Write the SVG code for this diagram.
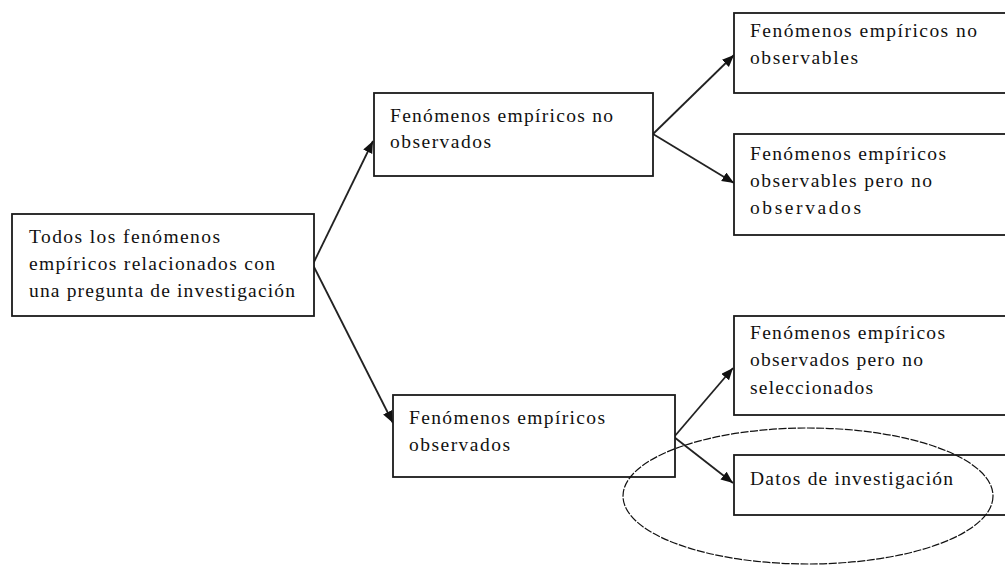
<svg xmlns="http://www.w3.org/2000/svg" width="1005" height="566" viewBox="0 0 1005 566">
  <style>
    .box { fill: #ffffff; stroke: #1a1a1a; stroke-width: 1.8; }
    .lbl { font-family: "Liberation Serif", "Times New Roman", serif; font-size: 19.5px; fill: #111111; }
    .conn { stroke: #222222; stroke-width: 1.8; fill: none; marker-end: url(#arrow); }
    .oval { fill: none; stroke: #111111; stroke-width: 1.2; stroke-dasharray: 8 1.5; }
  </style>
  <defs>
    <marker id="arrow" markerUnits="userSpaceOnUse" markerWidth="14" markerHeight="12" refX="12" refY="5" orient="auto">
      <path d="M0,0 L12,5 L0,10 Z" fill="#111111"/>
    </marker>
  </defs>
  <rect width="1005" height="566" fill="#ffffff"/>

  <g id="connectors">
    <line class="conn" x1="313" y1="264" x2="373" y2="141"/>
    <line class="conn" x1="313" y1="265" x2="393" y2="423"/>
    <line class="conn" x1="653" y1="134" x2="734" y2="55"/>
    <line class="conn" x1="653" y1="134" x2="734" y2="183"/>
    <line class="conn" x1="674" y1="437" x2="733" y2="368"/>
    <line class="conn" x1="674" y1="437" x2="733" y2="483"/>
  </g>

  <g id="root">
    <rect class="box" x="12" y="214" width="302" height="102"/>
    <text class="lbl" x="29" y="243" textLength="191" lengthAdjust="spacing">Todos los fenómenos</text>
    <text class="lbl" x="29" y="270" textLength="246" lengthAdjust="spacing">empíricos relacionados con</text>
    <text class="lbl" x="29" y="297" textLength="266" lengthAdjust="spacing">una pregunta de investigación</text>
  </g>

  <g id="no-observados">
    <rect class="box" x="374" y="93" width="279" height="83"/>
    <text class="lbl" x="390" y="122" textLength="223" lengthAdjust="spacing">Fenómenos empíricos no</text>
    <text class="lbl" x="390" y="148" textLength="101" lengthAdjust="spacing">observados</text>
  </g>

  <g id="observados">
    <rect class="box" x="393" y="395" width="282" height="82"/>
    <text class="lbl" x="409" y="424" textLength="196" lengthAdjust="spacing">Fenómenos empíricos</text>
    <text class="lbl" x="409" y="451" textLength="101" lengthAdjust="spacing">observados</text>
  </g>

  <g id="no-observables">
    <rect class="box" x="734" y="13" width="290" height="80"/>
    <text class="lbl" x="750" y="37" textLength="227" lengthAdjust="spacing">Fenómenos empíricos no</text>
    <text class="lbl" x="750" y="64" textLength="108" lengthAdjust="spacing">observables</text>
  </g>

  <g id="observables-no-observados">
    <rect class="box" x="734" y="134" width="290" height="101"/>
    <text class="lbl" x="750" y="160" textLength="196" lengthAdjust="spacing">Fenómenos empíricos</text>
    <text class="lbl" x="750" y="187" textLength="182" lengthAdjust="spacing">observables pero no</text>
    <text class="lbl" x="750" y="214" textLength="111" lengthAdjust="spacing">observados</text>
  </g>

  <g id="observados-no-seleccionados">
    <rect class="box" x="734" y="316" width="290" height="99"/>
    <text class="lbl" x="750" y="339" textLength="195" lengthAdjust="spacing">Fenómenos empíricos</text>
    <text class="lbl" x="750" y="366" textLength="173" lengthAdjust="spacing">observados pero no</text>
    <text class="lbl" x="750" y="394" textLength="123" lengthAdjust="spacing">seleccionados</text>
  </g>

  <g id="datos">
    <rect class="box" x="734" y="455" width="290" height="60"/>
    <text class="lbl" x="750" y="485" textLength="203" lengthAdjust="spacing">Datos de investigación</text>
  </g>

  <g id="highlight">
    <ellipse class="oval" cx="808" cy="496" rx="185" ry="68"/>
  </g>
</svg>
